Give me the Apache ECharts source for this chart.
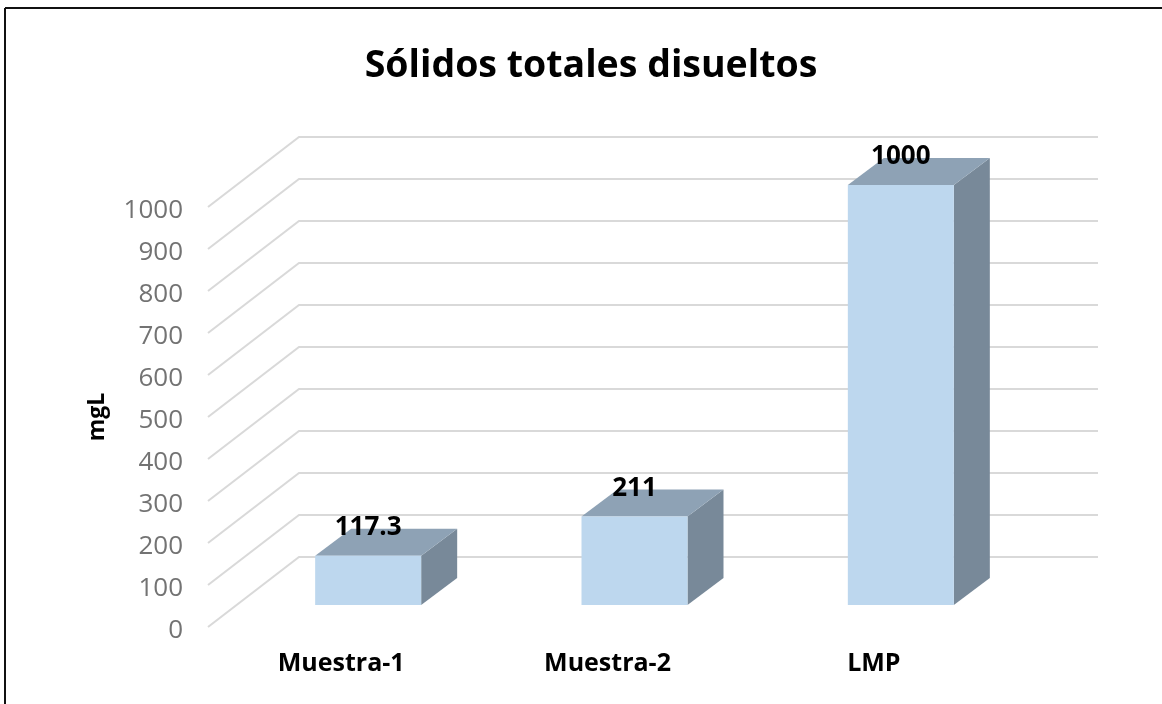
<!DOCTYPE html>
<html>
<head>
<meta charset="utf-8">
<title>Sólidos totales disueltos</title>
<script src="https://cdn.jsdelivr.net/npm/echarts@6/dist/echarts.min.js"></script>
<style>
  html, body { margin: 0; padding: 0; background: #fff; }
  #chart { width: 1162px; height: 704px; }
</style>
</head>
<body>
<div id="chart"></div>
<script>
// datos
const categories = ['Muestra-1', 'Muestra-2', 'LMP']
const values = [117.3, 211, 1000]
const yTicks = [0, 100, 200, 300, 400, 500, 600, 700, 800, 900, 1000]

// fondo del pseudo 3D, en pixeles
const wallDx = 91
const wallDy = 70
const barPlaneDx = 27
const barPlaneDy = 22
const barDepthDx = 36
const barDepthDy = 27
const barWidth = 106

const fontName = '"Open Sans", sans-serif'

const chart = echarts.init(document.getElementById('chart'))

// lineas de division: pared izquierda + pared del fondo
const renderGridLine = (params, api) => {
  const sys = params.coordSys
  const y = api.coord([0, api.value(1)])[1]
  return {
    type: 'polyline',
    silent: true,
    shape: {
      points: [
        [sys.x, y],
        [sys.x + wallDx, y - wallDy],
        [sys.x + sys.width + wallDx, y - wallDy]
      ]
    },
    style: { stroke: '#d9d9d9', lineWidth: 2, fill: null }
  }
}

// barra: frente, tapa, lateral y etiqueta
const renderBar = (params, api) => {
  const base = api.coord([api.value(0), 0])
  const top = api.coord([api.value(0), api.value(1)])
  const xl = base[0] + barPlaneDx - barWidth / 2
  const xr = xl + barWidth
  const yb = base[1] - barPlaneDy
  const yt = top[1] - barPlaneDy
  return {
    type: 'group',
    children: [
      {
        type: 'polygon',
        shape: { points: [[xr, yt], [xr + barDepthDx, yt - barDepthDy], [xr + barDepthDx, yb - barDepthDy], [xr, yb]] },
        style: { fill: '#788999' }
      },
      {
        type: 'polygon',
        shape: { points: [[xl, yt], [xl + barDepthDx, yt - barDepthDy], [xr + barDepthDx, yt - barDepthDy], [xr, yt]] },
        style: { fill: '#8ea2b5' }
      },
      {
        type: 'rect',
        shape: { x: xl, y: yt, width: barWidth, height: yb - yt },
        style: { fill: '#bdd7ee' }
      },
      {
        type: 'text',
        style: {
          text: String(api.value(1)),
          x: xl + barWidth / 2,
          y: yt - 28,
          align: 'center',
          verticalAlign: 'middle',
          fill: '#000',
          font: 'bold 26px ' + fontName
        }
      }
    ]
  }
}

chart.setOption({
  animation: false,
  backgroundColor: '#fff',
  title: {
    text: 'Sólidos totales disueltos',
    left: 586,
    top: 42,
    textAlign: 'center',
    textStyle: { fontFamily: fontName, fontSize: 37.5, fontWeight: 'bold', color: '#000' }
  },
  graphic: [
    { type: 'line', shape: { x1: 5, y1: 8, x2: 1162, y2: 8 }, style: { stroke: '#111', lineWidth: 2 } },
    { type: 'line', shape: { x1: 5, y1: 8, x2: 5, y2: 704 }, style: { stroke: '#111', lineWidth: 2 } }
  ],
  grid: { left: 208, top: 207, width: 799, height: 420 },
  xAxis: {
    type: 'category',
    data: categories,
    axisLine: { show: false },
    axisTick: { show: false },
    axisLabel: { margin: 24, fontFamily: fontName, fontSize: 25, fontWeight: 'bold', color: '#000' }
  },
  yAxis: {
    type: 'value',
    min: 0,
    max: 1000,
    interval: 100,
    name: 'mgL',
    nameLocation: 'middle',
    nameGap: 99,
    nameTextStyle: { fontFamily: fontName, fontSize: 23, fontWeight: 'bold', color: '#000' },
    axisLine: { show: false },
    axisTick: { show: false },
    splitLine: { show: false },
    axisLabel: {
      margin: 25,
      fontFamily: fontName,
      fontSize: 26,
      color: '#737373',
      formatter: (v) => '{t|' + v + '}',
      rich: { t: { fontFamily: fontName, fontSize: 26, color: '#737373', padding: [7, 0, 0, 0] } }
    }
  },
  series: [
    {
      type: 'custom',
      renderItem: renderGridLine,
      clip: false,
      silent: true,
      z: 1,
      data: yTicks.map((v) => [0, v])
    },
    {
      type: 'custom',
      renderItem: renderBar,
      clip: false,
      z: 2,
      encode: { x: 0, y: 1 },
      data: values.map((v, i) => [i, v])
    }
  ]
})

window.addEventListener('resize', () => chart.resize())
</script>
</body>
</html>
